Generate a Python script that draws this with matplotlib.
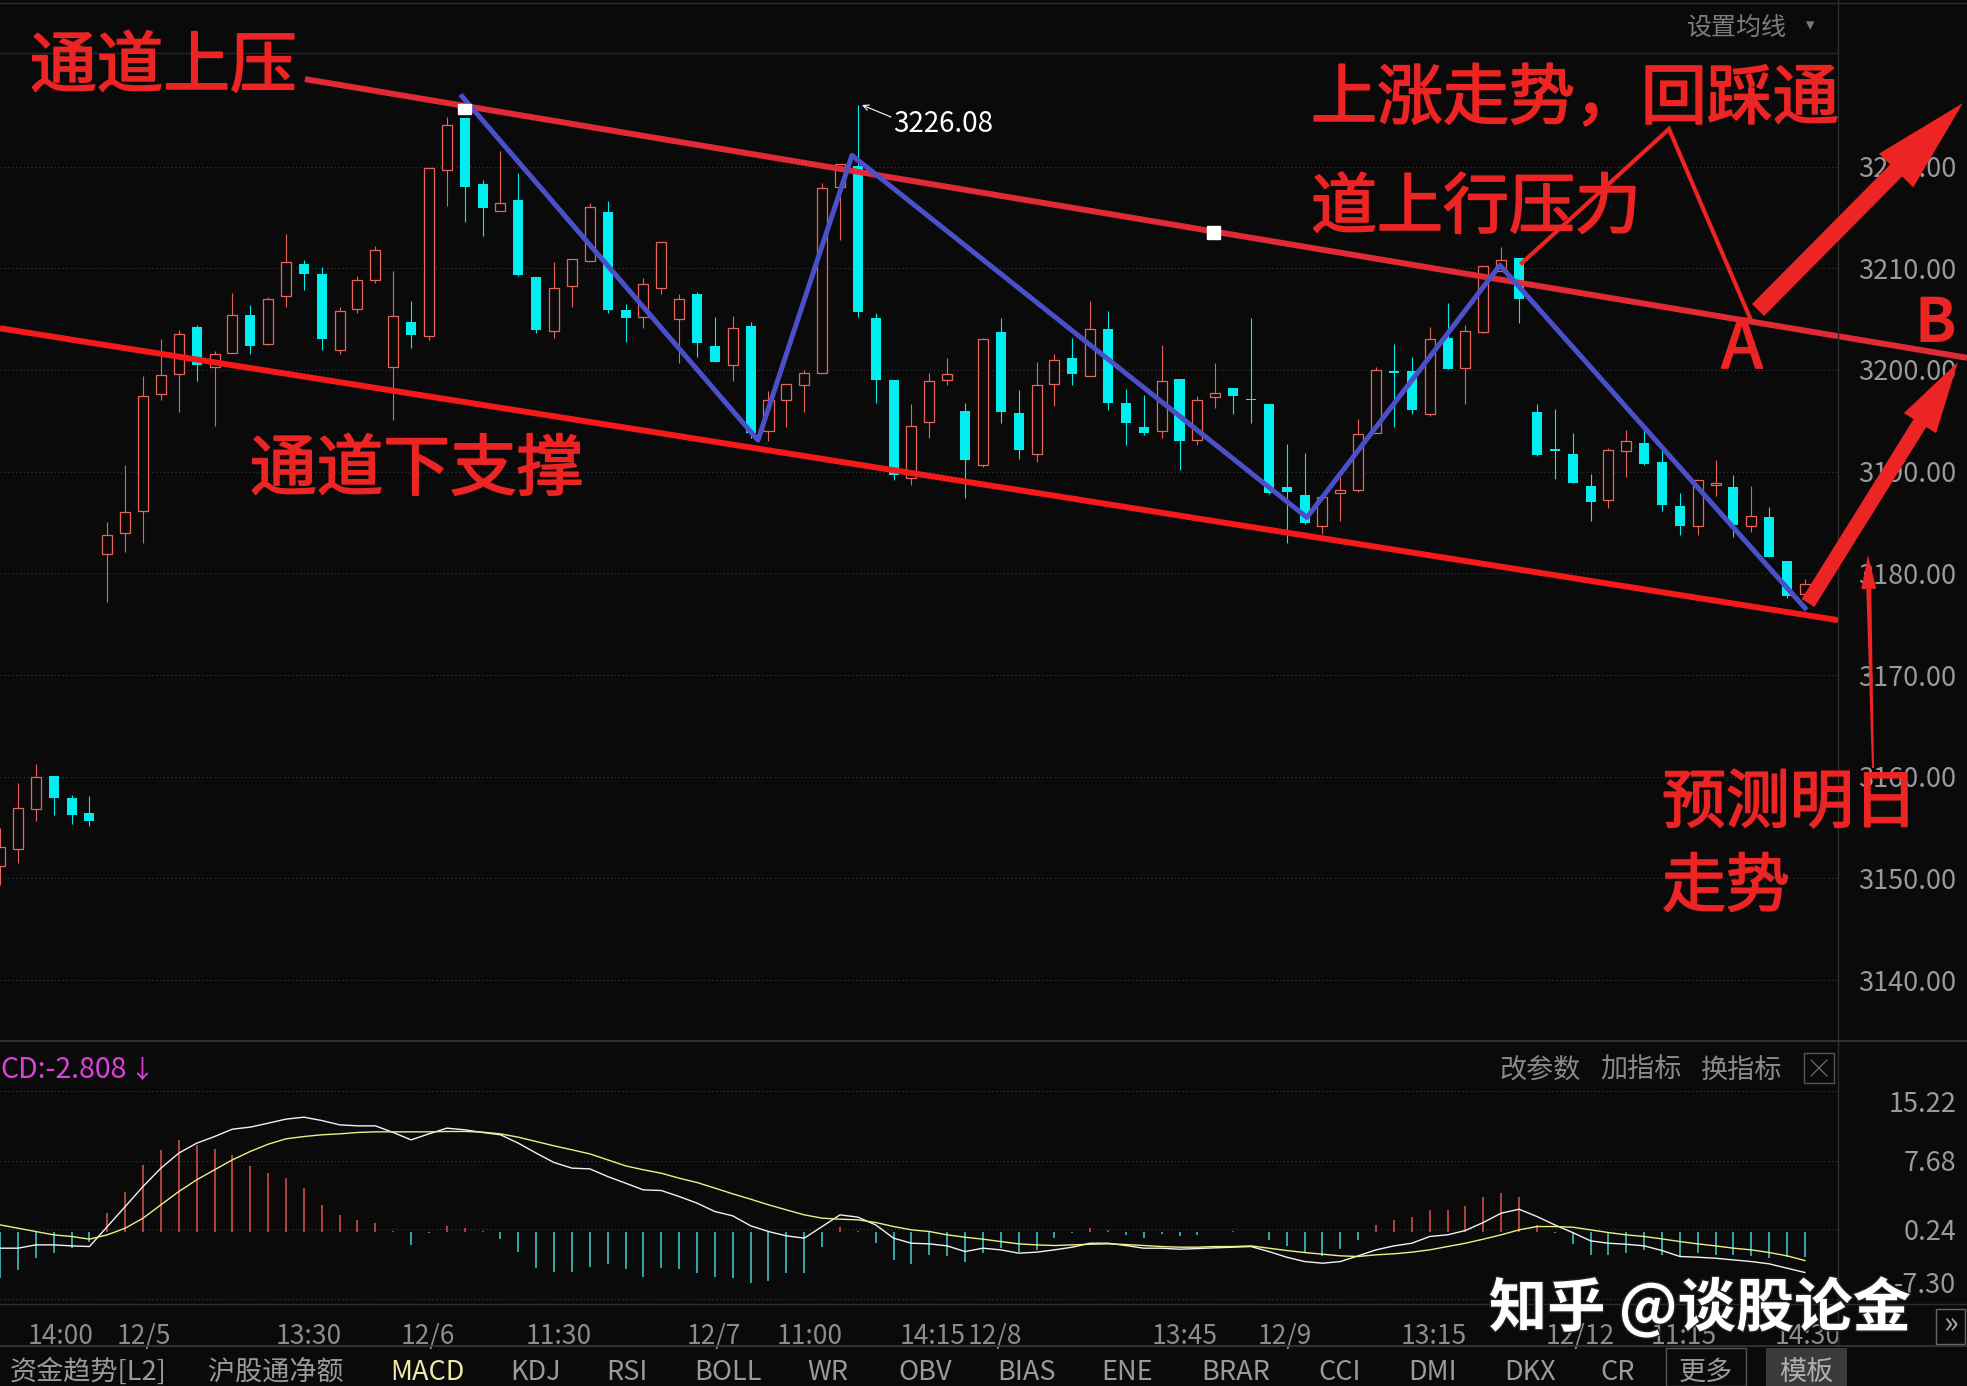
import numpy as np
import matplotlib
matplotlib.use('Agg')
import matplotlib.pyplot as plt
from matplotlib.patches import Rectangle, Polygon
import matplotlib.patheffects as pe

plt.rcParams['font.family'] = ['Noto Sans CJK SC', 'DejaVu Sans']

# 15-minute bars, 12/2 afternoon .. 12/12 14:30
opens = [3151.2, 3152.9, 3156.8, 3160.1, 3157.9, 3156.4, 3181.9, 3184.0, 3186.1, 3197.6,
         3199.6, 3204.2, 3200.3, 3201.7, 3205.4, 3202.6, 3207.3, 3210.4, 3209.4, 3202.0,
         3206.0, 3208.8, 3200.3, 3204.7, 3203.3, 3219.7, 3224.8, 3218.3, 3215.6, 3216.7,
         3209.1, 3203.8, 3208.3, 3210.7, 3215.5, 3205.9, 3205.2, 3208.1, 3205.0, 3207.5,
         3202.4, 3200.5, 3204.3, 3194.0, 3197.0, 3198.5, 3199.7, 3218.0, 3220.1, 3205.1,
         3199.0, 3189.4, 3194.9, 3199.0, 3196.0, 3190.7, 3203.7, 3195.8, 3191.7, 3198.6,
         3201.2, 3199.4, 3204.0, 3196.8, 3194.4, 3194.0, 3199.1, 3193.1, 3197.3, 3198.2,
         3197.1, 3196.7, 3188.5, 3187.7, 3184.7, 3187.9, 3188.2, 3193.8, 3199.9, 3199.9,
         3195.7, 3203.1, 3200.2, 3203.7, 3209.7, 3211.0, 3195.9, 3192.2, 3191.7, 3188.6,
         3187.2, 3192.0, 3192.8, 3191.0, 3186.6, 3184.7, 3188.7, 3188.5, 3184.7, 3185.5,
         3181.2, 3178.0]
highs = [3155.0, 3159.4, 3161.3, 3160.1, 3158.2, 3158.1, 3185.1, 3190.7, 3199.4, 3203.0,
         3203.9, 3204.4, 3201.9, 3207.6, 3206.4, 3207.2, 3213.4, 3210.8, 3210.1, 3206.2,
         3209.2, 3212.2, 3209.7, 3206.8, 3219.9, 3224.9, 3224.8, 3218.7, 3221.5, 3219.4,
         3209.1, 3210.6, 3210.9, 3216.4, 3216.6, 3206.5, 3209.0, 3212.6, 3207.5, 3207.7,
         3205.2, 3205.3, 3204.7, 3197.9, 3198.6, 3200.0, 3218.4, 3220.3, 3226.08, 3205.6,
         3199.0, 3196.7, 3199.7, 3201.2, 3196.8, 3203.1, 3205.1, 3198.0, 3200.8, 3201.6,
         3203.1, 3206.8, 3205.8, 3198.1, 3197.5, 3202.5, 3199.1, 3197.4, 3200.7, 3198.2,
         3205.1, 3196.7, 3192.7, 3191.8, 3187.5, 3189.5, 3195.2, 3200.3, 3202.6, 3201.3,
         3204.2, 3206.6, 3204.4, 3210.2, 3212.1, 3211.0, 3196.7, 3196.2, 3193.8, 3189.8,
         3192.3, 3194.1, 3194.3, 3192.3, 3187.9, 3189.2, 3191.1, 3189.7, 3188.6, 3186.5,
         3181.2, 3179.4]
lows = [3149.4, 3151.5, 3155.7, 3156.2, 3155.4, 3155.2, 3177.2, 3182.1, 3183.0, 3197.0,
        3195.9, 3198.9, 3194.5, 3201.7, 3201.6, 3202.5, 3206.2, 3207.9, 3202.0, 3201.6,
        3205.6, 3208.6, 3195.1, 3202.2, 3202.9, 3216.1, 3214.6, 3213.2, 3215.6, 3209.2,
        3203.6, 3203.1, 3206.2, 3210.7, 3205.6, 3202.8, 3204.1, 3207.5, 3200.7, 3201.3,
        3200.8, 3198.9, 3193.3, 3193.0, 3194.4, 3195.9, 3199.7, 3212.8, 3205.2, 3196.8,
        3189.2, 3188.7, 3193.3, 3198.5, 3187.4, 3190.5, 3194.8, 3191.2, 3191.0, 3196.5,
        3198.5, 3199.4, 3196.1, 3192.6, 3193.6, 3193.3, 3190.2, 3192.6, 3196.3, 3195.7,
        3194.8, 3187.8, 3183.0, 3184.9, 3183.9, 3185.2, 3188.0, 3193.8, 3194.4, 3195.7,
        3195.5, 3200.1, 3196.7, 3203.6, 3209.7, 3204.6, 3191.5, 3189.3, 3188.9, 3185.2,
        3186.4, 3189.5, 3190.7, 3186.1, 3183.8, 3183.8, 3187.6, 3183.6, 3184.1, 3181.6,
        3177.6, 3177.7]
closes = [3153.1, 3156.9, 3160.0, 3157.9, 3156.2, 3155.7, 3183.8, 3186.0, 3197.4, 3199.5,
          3203.5, 3200.5, 3201.6, 3205.4, 3202.4, 3207.0, 3210.6, 3209.4, 3203.0, 3205.8,
          3208.8, 3211.8, 3205.3, 3203.4, 3219.9, 3224.1, 3218.0, 3215.9, 3216.4, 3209.3,
          3203.9, 3208.1, 3210.9, 3216.0, 3205.9, 3205.1, 3208.5, 3212.6, 3207.0, 3202.7,
          3200.8, 3204.1, 3193.8, 3197.0, 3198.6, 3199.7, 3217.9, 3220.3, 3205.7, 3199.0,
          3189.7, 3194.5, 3198.9, 3199.6, 3191.1, 3203.0, 3195.9, 3192.1, 3198.5, 3201.0,
          3199.6, 3204.0, 3196.8, 3194.8, 3193.8, 3198.95, 3193.0, 3197.0, 3197.7, 3197.4,
          3197.0, 3187.9, 3188.0, 3185.0, 3187.5, 3188.2, 3193.7, 3200.0, 3199.7, 3196.1,
          3203.0, 3200.1, 3203.8, 3210.2, 3210.8, 3207.0, 3191.6, 3192.0, 3188.9, 3187.0,
          3192.1, 3193.0, 3190.8, 3186.7, 3184.7, 3189.2, 3188.8, 3184.8, 3185.6, 3181.6,
          3177.8, 3179.0]

dif = [-1.81, -1.81, -1.45, -1.45, -1.56, -1.63, 0.54, 2.71, 4.89, 6.88,
       8.51, 9.59, 10.31, 11.11, 11.33, 11.76, 12.20, 12.41, 12.05, 11.58,
       11.47, 11.47, 10.75, 9.95, 10.60, 11.22, 11.04, 10.75, 10.50, 9.59,
       8.51, 7.49, 6.88, 6.80, 5.97, 5.25, 4.52, 4.45, 3.80, 3.08,
       2.17, 1.70, 0.62, 0.0, -0.47, -0.72, 0.54, 1.81, 1.56, 0.72,
       -0.72, -1.27, -1.34, -1.56, -2.17, -1.81, -1.99, -2.35, -2.24, -1.99,
       -1.70, -1.27, -1.27, -1.52, -1.81, -1.81, -1.92, -1.85, -1.77, -1.70,
       -1.63, -2.17, -2.79, -3.26, -3.44, -3.26, -2.64, -1.99, -1.56, -1.27,
       -0.54, -0.36, 0.11, 0.98, 1.99, 2.42, 1.63, 0.72, -0.11, -1.01,
       -1.27, -1.38, -1.56, -2.06, -2.71, -2.79, -2.90, -3.08, -3.26, -3.51,
       -3.98, -4.45]
dea = [0.72, 0.36, 0.0, -0.36, -0.54, -0.83, -0.36, 0.36, 1.45, 2.90,
       4.34, 5.61, 6.70, 7.78, 8.69, 9.48, 10.06, 10.31, 10.50, 10.60,
       10.75, 10.82, 10.82, 10.82, 10.82, 10.86, 10.86, 10.79, 10.60, 10.24,
       9.77, 9.30, 8.87, 8.43, 7.78, 7.13, 6.70, 6.33, 5.79, 5.32,
       4.71, 4.09, 3.51, 2.90, 2.35, 1.81, 1.45, 1.34, 1.27, 0.98,
       0.54, 0.18, 0.0, -0.36, -0.62, -0.83, -1.09, -1.34, -1.45, -1.52,
       -1.45, -1.38, -1.34, -1.41, -1.52, -1.63, -1.70, -1.70, -1.63, -1.63,
       -1.56, -1.81, -2.06, -2.28, -2.46, -2.64, -2.71, -2.53, -2.42, -2.24,
       -1.99, -1.63, -1.27, -0.83, -0.36, 0.18, 0.54, 0.54, 0.47, 0.18,
       -0.11, -0.36, -0.54, -0.80, -1.09, -1.34, -1.56, -1.81, -1.99, -2.28,
       -2.64, -3.15]
macd_hist = [-5.07, -4.16, -2.90, -2.35, -1.81, -1.09, 1.99, 4.34, 7.24, 8.87,
             9.88, 9.41, 8.94, 8.32, 7.06, 6.33, 5.79, 4.71, 2.90, 1.81,
             1.27, 0.90, 0.10, -1.45, -0.18, 0.62, 0.36, 0.05, -0.83, -2.17,
             -3.91, -4.42, -4.34, -3.80, -3.51, -4.09, -4.89, -3.98, -4.09, -4.52,
             -4.96, -5.07, -5.61, -5.32, -4.52, -4.52, -1.63, 0.54, 0.05, -1.27,
             -3.08, -3.51, -2.53, -2.64, -3.26, -2.35, -1.80, -2.20, -2.00, -0.70,
             -0.20, 0.36, 0.18, -0.36, -0.72, -0.30, -0.54, -0.36, -0.10, 0.10,
             -0.10, -0.90, -1.60, -2.35, -2.70, -1.90, -0.90, 0.72, 1.27, 1.63,
             2.35, 2.30, 2.80, 3.80, 4.20, 3.80, 0.72, -0.20, -1.35, -2.50,
             -2.60, -2.35, -2.00, -2.50, -2.70, -2.35, -2.50, -2.60, -2.70, -2.90,
             -2.80, -2.81]

price_ticks = [3140, 3150, 3160, 3170, 3180, 3190, 3200, 3210, 3220]
macd_ticks = [15.22, 7.68, 0.24, -7.30]
time_labels = ['14:00', '12/5', '13:30', '12/6', '11:30', '12/7', '11:00', '14:15',
               '12/8', '13:45', '12/9', '13:15', '12/12', '11:15', '14:30']
time_pos = [3.41, 8.05, 17.29, 23.95, 31.28, 39.95, 45.32, 52.2,
            55.65, 66.31, 71.9, 80.24, 88.41, 94.23, 101.17]
tabs = ['资金趋势[L2]', '沪股通净额', 'MACD', 'KDJ', 'RSI', 'BOLL', 'WR', 'OBV', 'BIAS',
        'ENE', 'BRAR', 'CCI', 'DMI', 'DKX', 'CR']
tab_x = [88, 276, 427, 536, 627, 728, 828, 925, 1026, 1127, 1236, 1340, 1433, 1530, 1618]

# hand-drawn channel (bar index, price)
upper_x, upper_y = [17.06, 110.07], [3228.6, 3201.2]
lower_x, lower_y = [-0.006, 102.85], [3204.1, 3175.4]
zig_x = [25.85, 42.41, 47.67, 73.13, 83.93, 101.0]
zig_y = [3226.9, 3193.1, 3221.1, 3185.5, 3210.3, 3176.6]

W, H = 1967, 1386
BG = '#0a0a0a'
UP = '#e8645a'
DN = '#00eeee'
GRID = '#3a3a3a'
AXTXT = '#9a9a9a'
RED = '#ec2424'

fig = plt.figure(figsize=(W / 100, H / 100), dpi=100, facecolor=BG)


def px_axes(x0, y0, x1, y1):
    a = fig.add_axes([x0 / W, 1 - y1 / H, (x1 - x0) / W, (y1 - y0) / H])
    a.set_facecolor(BG)
    for s in a.spines.values():
        s.set_visible(False)
    return a


# ---- price panel ----
ax = px_axes(0, 0, 1838, 1041)
o, h, l, c = map(np.array, (opens, highs, lows, closes))
idx = np.arange(len(o))
up = c >= o
ax.vlines(idx[up], l[up], h[up], color=UP, lw=0.8, zorder=2)
ax.vlines(idx[~up], l[~up], h[~up], color=DN, lw=0.8, zorder=2)
body = np.maximum(np.abs(c - o), 0.15)
bot = np.minimum(o, c)
ax.bar(idx[up], body[up], bottom=bot[up], width=0.56, facecolor=BG, edgecolor=UP, lw=0.9, zorder=3)
ax.bar(idx[~up], body[~up], bottom=bot[~up], width=0.56, color=DN, lw=0, zorder=3)

ax.plot(upper_x, upper_y, color='#e02a36', lw=4.3, solid_capstyle='butt', clip_on=False, zorder=5)
ax.plot(lower_x, lower_y, color='#f41a1a', lw=4.3, solid_capstyle='butt', clip_on=False, zorder=5)
ax.plot(zig_x, zig_y, color='#4b4fc9', lw=3.6, solid_joinstyle='round', zorder=6)

ax.set_xlim(-0.0056, 102.85)
ax.set_ylim(3134.02, 3236.38)
ax.set_xticks([])
ax.set_yticks(price_ticks)
ax.set_yticklabels(['%.2f' % v for v in price_ticks], ha='right')
ax.yaxis.tick_right()
ax.tick_params(axis='y', length=0, pad=85, labelsize=19.5, labelcolor=AXTXT)
ax.grid(axis='y', color=GRID, lw=0.8, linestyle=(0, (1, 2.5)))

# ---- MACD panel ----
ax2 = px_axes(0, 1041, 1838, 1302)
hist = np.array(macd_hist)
cols = np.where(hist >= 0, '#e0524a', '#3fd0d0')
ax2.vlines(idx, 0, hist, colors=cols, lw=1.1, zorder=2)
ax2.plot(idx, dif, color='#f2f2f2', lw=1.0, zorder=3)
ax2.plot(idx, dea, color='#eeee88', lw=1.0, zorder=3)
ax2.set_xlim(-0.0056, 102.85)
ax2.set_ylim(-7.65, 20.68)
ax2.set_yticks(macd_ticks)
ax2.set_yticklabels(['%.2f' % v for v in macd_ticks], ha='right')
ax2.yaxis.tick_right()
ax2.tick_params(axis='y', length=0, pad=85, labelsize=19.5, labelcolor=AXTXT)
ax2.get_yticklabels()[0].set_va('top')
ax2.get_yticklabels()[-1].set_va('bottom')
ax2.grid(axis='y', color=GRID, lw=0.8, linestyle=(0, (1, 2.5)))
ax2.set_xticks(time_pos)
ax2.set_xticklabels(time_labels)
ax2.tick_params(axis='x', length=0, pad=15, labelsize=19, labelcolor='#8c8c8c')

# ---- overlay in pixel units ----
ov = fig.add_axes([0, 0, 1, 1])
ov.set_xlim(0, W)
ov.set_ylim(H, 0)
ov.axis('off')
ov.patch.set_alpha(0)
ov.set_zorder(10)

sep = '#2e2e2e'
ov.plot([0, W], [3, 3], color=sep, lw=1)
ov.plot([0, 1838], [53, 53], color='#262626', lw=1)
ov.plot([1838, 1838], [0, 1346], color=sep, lw=1)
ov.plot([0, W], [1041, 1041], color='#383838', lw=1.2)
ov.plot([0, W], [1304, 1304], color=sep, lw=1)
ov.plot([0, W], [1346, 1346], color='#383838', lw=1.2)

ov.text(1687, 28, '设置均线', color='#7c7c7c', fontsize=18, ha='left', va='center')
ov.text(1810, 26, '▾', color='#7c7c7c', fontsize=12, ha='center', va='center')

# price max label
ov.text(893, 124, '3226.08', color='white', fontsize=20, ha='left', va='center')
ov.annotate('', xy=(862, 105), xytext=(891, 117),
            arrowprops=dict(arrowstyle='->', color='white', lw=0.8, shrinkA=0, shrinkB=0))

# drag handles of the selected line
ov.add_patch(Rectangle((458, 104), 13, 10, color='white', zorder=8))
ov.add_patch(Rectangle((1207, 226), 13, 13, color='white', zorder=8))

# red notes
thick = [pe.withStroke(linewidth=1.3, foreground=RED)]
notes = [(30, 68, '通道上压', 48), (250, 471, '通道下支撑', 48),
         (1311, 100, '上涨走势，回踩通', 47.5), (1311, 209, '道上行压力', 47.5),
         (1662, 804, '预测明日', 46), (1662, 888, '走势', 46)]
for x, y, t, s in notes:
    ov.text(x, y, t, color=RED, fontsize=s, ha='left', va='center', zorder=9,
            path_effects=thick)
ov.text(1742, 349, 'A', color=RED, fontsize=49, ha='center', va='center', path_effects=thick)
ov.text(1935, 324, 'B', color=RED, fontsize=44, fontweight='bold', ha='center', va='center')

ov.plot([1522, 1669, 1750], [263, 129, 318], color=RED, lw=3, solid_joinstyle='miter')


def arrow(x0, y0, x1, y1, w0, w1, hw, hl):
    d = np.array([x1 - x0, y1 - y0], float)
    L = np.hypot(*d)
    u = d / L
    n = np.array([-u[1], u[0]])
    p0 = np.array([x0, y0], float)
    b = p0 + u * (L - hl)
    pts = [p0 + n * w0 / 2, b + n * w1 / 2, b + n * hw / 2, p0 + d,
           b - n * hw / 2, b - n * w1 / 2, p0 - n * w0 / 2]
    ov.add_patch(Polygon(pts, closed=True, color=RED, lw=0, zorder=9))


arrow(1758, 310, 1963, 103, 17, 17, 48, 95)
arrow(1808, 603, 1958, 362, 15, 15, 38, 72)
arrow(1873, 768, 1868, 555, 2, 5, 15, 34)

# MACD header
ov.text(0, 1070, 'CD:-2.808', color='#e040e0', fontsize=20.5, ha='left', va='center')
ov.text(142, 1071, '↓', color='#e040e0', fontsize=18, ha='center', va='center')
for t, x in zip(['改参数', '加指标', '换指标'], [1540, 1641, 1742]):
    ov.text(x, 1070, t, color='#8a8a8a', fontsize=19.5, ha='center', va='center')
ov.add_patch(Rectangle((1804, 1053), 30, 30, fill=False, edgecolor='#555555', lw=1))
ov.plot([1811, 1827], [1060, 1076], color='#777777', lw=0.8)
ov.plot([1811, 1827], [1076, 1060], color='#777777', lw=0.8)

# bottom tabs
for t, x in zip(tabs, tab_x):
    ov.text(x, 1372, t, color='#f0e8a8' if t == 'MACD' else '#9a9a9a',
            fontsize=19.5, ha='center', va='center')
ov.add_patch(Rectangle((1666, 1348), 80, 38, fill=False, edgecolor='#555555', lw=1))
ov.text(1706, 1372, '更多', color='#9a9a9a', fontsize=19.5, ha='center', va='center')
ov.add_patch(Rectangle((1766, 1348), 81, 38, color='#3a3a3a', lw=0))
ov.text(1806, 1372, '模板', color='#b0b0b0', fontsize=19.5, ha='center', va='center')
ov.add_patch(Rectangle((1936, 1309), 29, 35, fill=False, edgecolor='#666666', lw=1))
ov.text(1950, 1325, '»', color='#aaaaaa', fontsize=22, ha='center', va='center')

# watermark
ov.text(1700, 1309, '知乎 @谈股论金', color='white', fontsize=42, fontweight='bold',
        ha='center', va='center', zorder=12,
        path_effects=[pe.withStroke(linewidth=2, foreground='#222222')])

fig.savefig('out.png', dpi=100, facecolor=BG)
